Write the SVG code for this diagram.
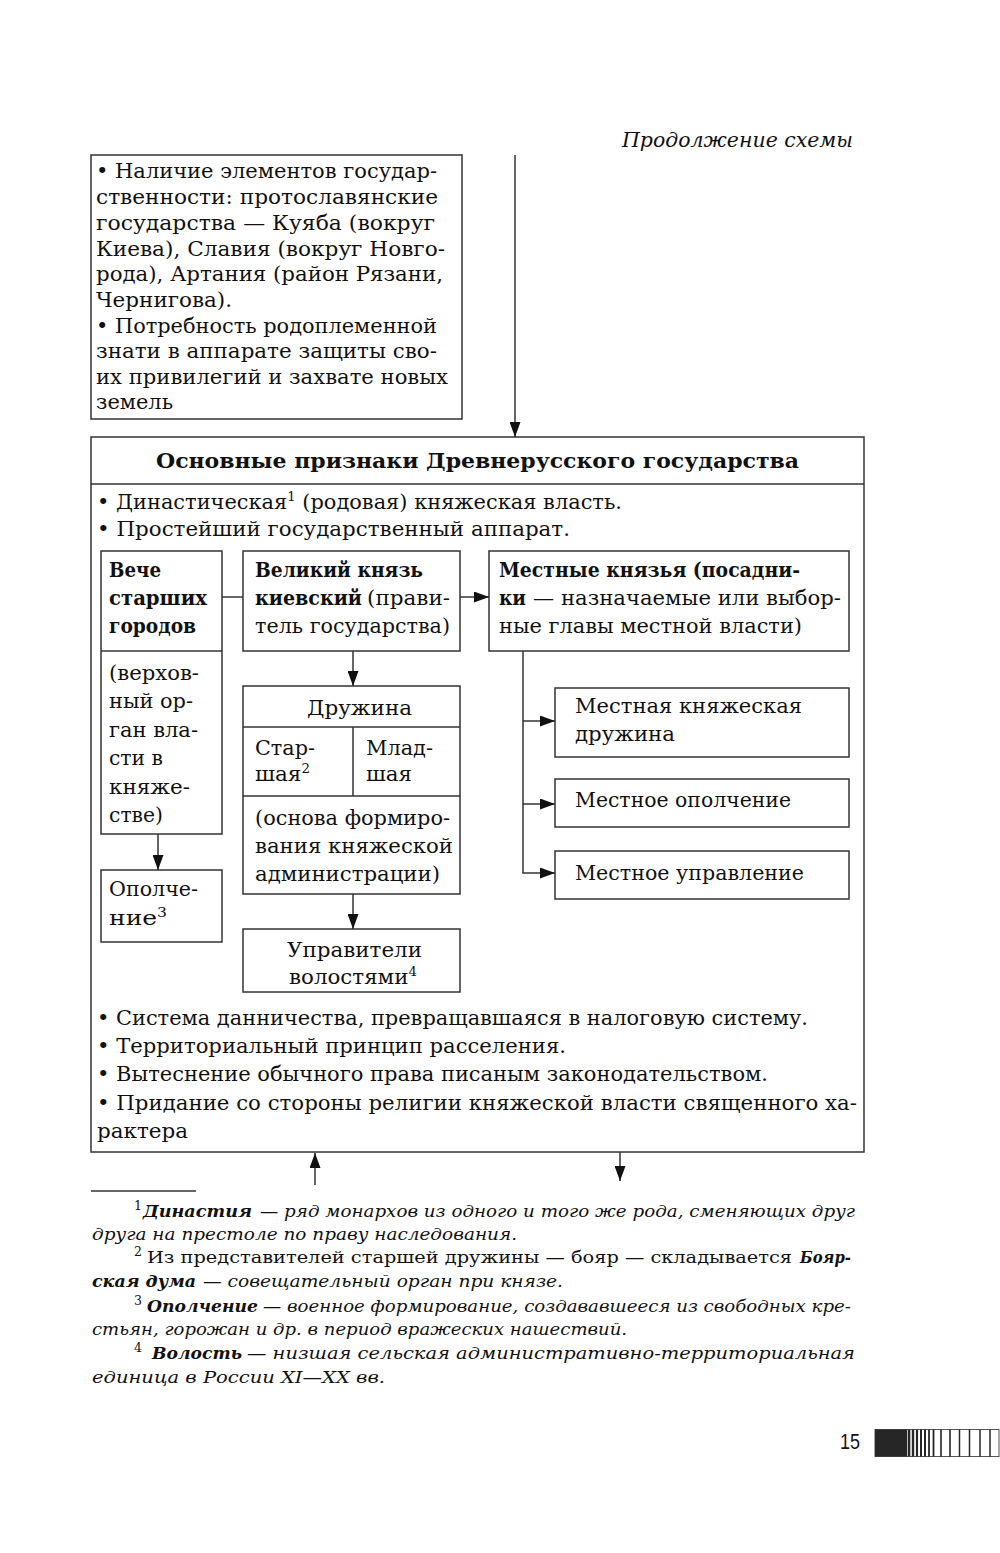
<svg xmlns="http://www.w3.org/2000/svg" width="1000" height="1553" viewBox="0 0 1000 1553">
<style>
.t{font-family:"DejaVu Serif","Liberation Serif",serif;font-size:20px;fill:#111}
.b{font-weight:bold}
.i{font-style:italic}
.fn{font-size:17.5px}
.sup{font-size:12.5px}
.box{fill:#fff;stroke:#333;stroke-width:1.5}
.ln{stroke:#333;stroke-width:1.5;fill:none}
.arr{stroke:#333;stroke-width:1.5;fill:none;marker-end:url(#ah)}
</style>
<defs>
<marker id="ah" markerUnits="userSpaceOnUse" markerWidth="15" markerHeight="11" refX="15" refY="5.5" orient="auto">
<path d="M0,0 L15,5.5 L0,11 z" fill="#111"/>
</marker>
</defs>
<rect width="1000" height="1553" fill="#fff"/>

<text class="t i" x="622" y="147" font-size="20" textLength="231" lengthAdjust="spacingAndGlyphs">Продолжение схемы</text>

<g id="prereq">
<rect class="box" x="91" y="155" width="371" height="264"/>
<text class="t" x="96" y="178" textLength="341" lengthAdjust="spacingAndGlyphs">• Наличие элементов государ-</text>
<text class="t" x="96" y="204" textLength="342" lengthAdjust="spacingAndGlyphs">ственности: протославянские</text>
<text class="t" x="96" y="230" textLength="339" lengthAdjust="spacingAndGlyphs">государства — Куяба (вокруг</text>
<text class="t" x="96" y="256" textLength="349" lengthAdjust="spacingAndGlyphs">Киева), Славия (вокруг Новго-</text>
<text class="t" x="96" y="281" textLength="347" lengthAdjust="spacingAndGlyphs">рода), Артания (район Рязани,</text>
<text class="t" x="96" y="307" textLength="136" lengthAdjust="spacingAndGlyphs">Чернигова).</text>
<text class="t" x="96" y="333" textLength="341" lengthAdjust="spacingAndGlyphs">• Потребность родоплеменной</text>
<text class="t" x="96" y="358" textLength="341" lengthAdjust="spacingAndGlyphs">знати в аппарате защиты сво-</text>
<text class="t" x="96" y="384" textLength="352" lengthAdjust="spacingAndGlyphs">их привилегий и захвате новых</text>
<text class="t" x="96" y="409" textLength="77" lengthAdjust="spacingAndGlyphs">земель</text>
</g>

<g id="main">
<rect class="box" x="91" y="437" width="773" height="715"/>
<line class="ln" x1="91" y1="484" x2="864" y2="484"/>
<text class="t b" x="477.5" y="468" font-size="21.5" text-anchor="middle" textLength="643" lengthAdjust="spacingAndGlyphs">Основные признаки Древнерусского государства</text>
<text class="t" x="97" y="509" textLength="525" lengthAdjust="spacingAndGlyphs">• Династическая<tspan class="sup" dy="-8">1</tspan><tspan dy="8"> (родовая) княжеская власть.</tspan></text>
<text class="t" x="97" y="536" textLength="473" lengthAdjust="spacingAndGlyphs">• Простейший государственный аппарат.</text>
<text class="t" x="97" y="1025" textLength="711" lengthAdjust="spacingAndGlyphs">• Система данничества, превращавшаяся в налоговую систему.</text>
<text class="t" x="97" y="1053" textLength="469" lengthAdjust="spacingAndGlyphs">• Территориальный принцип расселения.</text>
<text class="t" x="97" y="1081" textLength="671" lengthAdjust="spacingAndGlyphs">• Вытеснение обычного права писаным законодательством.</text>
<text class="t" x="97" y="1110" textLength="760" lengthAdjust="spacingAndGlyphs">• Придание со стороны религии княжеской власти священного ха-</text>
<text class="t" x="97" y="1138" textLength="91" lengthAdjust="spacingAndGlyphs">рактера</text>
</g>

<g id="veche">
<rect class="box" x="101" y="551" width="121" height="283"/>
<line class="ln" x1="101" y1="651" x2="222" y2="651"/>
<text class="t b" x="109" y="577" textLength="52" lengthAdjust="spacingAndGlyphs">Вече</text>
<text class="t b" x="109" y="605" textLength="98" lengthAdjust="spacingAndGlyphs">старших</text>
<text class="t b" x="109" y="633" textLength="87" lengthAdjust="spacingAndGlyphs">городов</text>
<text class="t" x="109" y="680" textLength="90" lengthAdjust="spacingAndGlyphs">(верхов-</text>
<text class="t" x="109" y="708" textLength="84" lengthAdjust="spacingAndGlyphs">ный ор-</text>
<text class="t" x="109" y="737" textLength="89" lengthAdjust="spacingAndGlyphs">ган вла-</text>
<text class="t" x="109" y="765" textLength="54" lengthAdjust="spacingAndGlyphs">сти в</text>
<text class="t" x="109" y="794" textLength="81" lengthAdjust="spacingAndGlyphs">княже-</text>
<text class="t" x="109" y="822" textLength="54" lengthAdjust="spacingAndGlyphs">стве)</text>
</g>

<g id="opolchenie">
<rect class="box" x="101" y="870" width="121" height="72"/>
<text class="t" x="109" y="896" textLength="89" lengthAdjust="spacingAndGlyphs">Ополче-</text>
<text class="t" x="109" y="925" textLength="58" lengthAdjust="spacingAndGlyphs">ние<tspan class="sup" dy="-8">3</tspan></text>
</g>

<g id="velikiy-knyaz">
<rect class="box" x="243" y="551" width="217" height="100"/>
<text class="t b" x="255" y="577" textLength="168" lengthAdjust="spacingAndGlyphs">Великий князь</text>
<text class="t b" x="255" y="605" textLength="107" lengthAdjust="spacingAndGlyphs">киевский</text>
<text class="t" x="367" y="605" textLength="83" lengthAdjust="spacingAndGlyphs">(прави-</text>
<text class="t" x="255" y="633" textLength="195" lengthAdjust="spacingAndGlyphs">тель государства)</text>
</g>

<g id="druzhina">
<rect class="box" x="243" y="686" width="217" height="208"/>
<line class="ln" x1="243" y1="727" x2="460" y2="727"/>
<line class="ln" x1="353" y1="727" x2="353" y2="796"/>
<line class="ln" x1="243" y1="796" x2="460" y2="796"/>
<text class="t" x="307" y="715" textLength="105" lengthAdjust="spacingAndGlyphs">Дружина</text>
<text class="t" x="255" y="755" textLength="60" lengthAdjust="spacingAndGlyphs">Стар-</text>
<text class="t" x="255" y="781" textLength="55" lengthAdjust="spacingAndGlyphs">шая<tspan class="sup" dy="-8">2</tspan></text>
<text class="t" x="366" y="755" textLength="67" lengthAdjust="spacingAndGlyphs">Млад-</text>
<text class="t" x="366" y="781" textLength="46" lengthAdjust="spacingAndGlyphs">шая</text>
<text class="t" x="255" y="825" textLength="195" lengthAdjust="spacingAndGlyphs">(основа формиро-</text>
<text class="t" x="255" y="853" textLength="198" lengthAdjust="spacingAndGlyphs">вания княжеской</text>
<text class="t" x="255" y="881" textLength="185" lengthAdjust="spacingAndGlyphs">администрации)</text>
</g>

<g id="upraviteli">
<rect class="box" x="243" y="929" width="217" height="63"/>
<text class="t" x="287" y="957" textLength="135" lengthAdjust="spacingAndGlyphs">Управители</text>
<text class="t" x="289" y="984" textLength="128" lengthAdjust="spacingAndGlyphs">волостями<tspan class="sup" dy="-8">4</tspan></text>
</g>

<g id="mestnye-knyazya">
<rect class="box" x="489" y="551" width="360" height="100"/>
<text class="t b" x="499" y="577" textLength="301" lengthAdjust="spacingAndGlyphs">Местные князья (посадни-</text>
<text class="t b" x="499" y="605" textLength="27" lengthAdjust="spacingAndGlyphs">ки</text>
<text class="t" x="533" y="605" textLength="308" lengthAdjust="spacingAndGlyphs">— назначаемые или выбор-</text>
<text class="t" x="499" y="633" textLength="303" lengthAdjust="spacingAndGlyphs">ные главы местной власти)</text>
</g>

<g id="mestnaya-druzhina">
<rect class="box" x="555" y="688" width="294" height="69"/>
<text class="t" x="575" y="713" textLength="227" lengthAdjust="spacingAndGlyphs">Местная княжеская</text>
<text class="t" x="575" y="741" textLength="100" lengthAdjust="spacingAndGlyphs">дружина</text>
</g>

<g id="mestnoe-opolchenie">
<rect class="box" x="555" y="779" width="294" height="48"/>
<text class="t" x="575" y="807" textLength="216" lengthAdjust="spacingAndGlyphs">Местное ополчение</text>
</g>

<g id="mestnoe-upravlenie">
<rect class="box" x="555" y="851" width="294" height="48"/>
<text class="t" x="575" y="880" textLength="229" lengthAdjust="spacingAndGlyphs">Местное управление</text>
</g>

<g id="connectors">
<line class="arr" x1="515" y1="155" x2="515" y2="437"/>
<line class="ln" x1="222" y1="597" x2="243" y2="597"/>
<line class="arr" x1="460" y1="597" x2="489" y2="597"/>
<line class="arr" x1="353" y1="651" x2="353" y2="686"/>
<line class="arr" x1="353" y1="894" x2="353" y2="929"/>
<line class="arr" x1="158" y1="834" x2="158" y2="870"/>
<polyline class="ln" points="523,651 523,873"/>
<line class="arr" x1="523" y1="721" x2="555" y2="721"/>
<line class="arr" x1="523" y1="804" x2="555" y2="804"/>
<line class="arr" x1="522.25" y1="873" x2="555" y2="873"/>
<line class="arr" x1="315" y1="1185" x2="315" y2="1153"/>
<line class="arr" x1="620" y1="1152" x2="620" y2="1181"/>
</g>

<g id="footnotes">
<line class="ln" x1="91" y1="1191" x2="196" y2="1191" stroke-width="1.2"/>
<text class="t fn sup" x="134" y="1210">1</text>
<text class="t fn i b" x="143" y="1217" textLength="109" lengthAdjust="spacingAndGlyphs">Династия</text>
<text class="t fn i" x="260" y="1217" textLength="595" lengthAdjust="spacingAndGlyphs">— ряд монархов из одного и того же рода, сменяющих друг</text>
<text class="t fn i" x="92" y="1240" textLength="425" lengthAdjust="spacingAndGlyphs">друга на престоле по праву наследования.</text>
<text class="t fn sup" x="134" y="1256">2</text>
<text class="t fn" x="147" y="1263" textLength="645" lengthAdjust="spacingAndGlyphs">Из представителей старшей дружины — бояр — складывается</text>
<text class="t fn i b" x="800" y="1263" textLength="51" lengthAdjust="spacingAndGlyphs">Бояр-</text>
<text class="t fn i b" x="92" y="1287" textLength="104" lengthAdjust="spacingAndGlyphs">ская дума</text>
<text class="t fn i" x="203" y="1287" textLength="360" lengthAdjust="spacingAndGlyphs">— совещательный орган при князе.</text>
<text class="t fn sup" x="134" y="1305">3</text>
<text class="t fn i b" x="147" y="1312" textLength="111" lengthAdjust="spacingAndGlyphs">Ополчение</text>
<text class="t fn i" x="263" y="1312" textLength="588" lengthAdjust="spacingAndGlyphs">— военное формирование, создававшееся из свободных кре-</text>
<text class="t fn i" x="92" y="1335" textLength="535" lengthAdjust="spacingAndGlyphs">стьян, горожан и др. в период вражеских нашествий.</text>
<text class="t fn sup" x="134" y="1352">4</text>
<text class="t fn i b" x="152" y="1359" textLength="90" lengthAdjust="spacingAndGlyphs">Волость</text>
<text class="t fn i" x="247" y="1359" textLength="608" lengthAdjust="spacingAndGlyphs">— низшая сельская административно-территориальная</text>
<text class="t fn i" x="92" y="1383" textLength="293" lengthAdjust="spacingAndGlyphs">единица в России XI—XX вв.</text>
</g>

<g id="page-number">
<text x="840" y="1449" font-family="'Liberation Sans',Arial,sans-serif" font-size="22" fill="#111" textLength="20" lengthAdjust="spacingAndGlyphs">15</text>
<rect x="875" y="1429.5" width="124" height="27" fill="#fff" stroke="#555" stroke-width="1"/>
<rect x="875" y="1429.5" width="32" height="27" fill="#262626"/>
<g stroke="#262626">
<line x1="909" y1="1429.5" x2="909" y2="1456.5" stroke-width="2.6"/>
<line x1="913" y1="1429.5" x2="913" y2="1456.5" stroke-width="2.4"/>
<line x1="917" y1="1429.5" x2="917" y2="1456.5" stroke-width="2.2"/>
<line x1="921" y1="1429.5" x2="921" y2="1456.5" stroke-width="2"/>
<line x1="925" y1="1429.5" x2="925" y2="1456.5" stroke-width="2"/>
<line x1="929" y1="1429.5" x2="929" y2="1456.5" stroke-width="1.8"/>
<line x1="933.5" y1="1429.5" x2="933.5" y2="1456.5" stroke-width="1.8"/>
<line x1="941" y1="1429.5" x2="941" y2="1456.5" stroke-width="1.6"/>
<line x1="950" y1="1429.5" x2="950" y2="1456.5" stroke-width="1.6"/>
<line x1="959.5" y1="1429.5" x2="959.5" y2="1456.5" stroke-width="1.5"/>
<line x1="969.5" y1="1429.5" x2="969.5" y2="1456.5" stroke-width="1.5"/>
<line x1="980" y1="1429.5" x2="980" y2="1456.5" stroke-width="1.5"/>
<line x1="990" y1="1429.5" x2="990" y2="1456.5" stroke-width="1.5"/>
</g>
</g>
</svg>
